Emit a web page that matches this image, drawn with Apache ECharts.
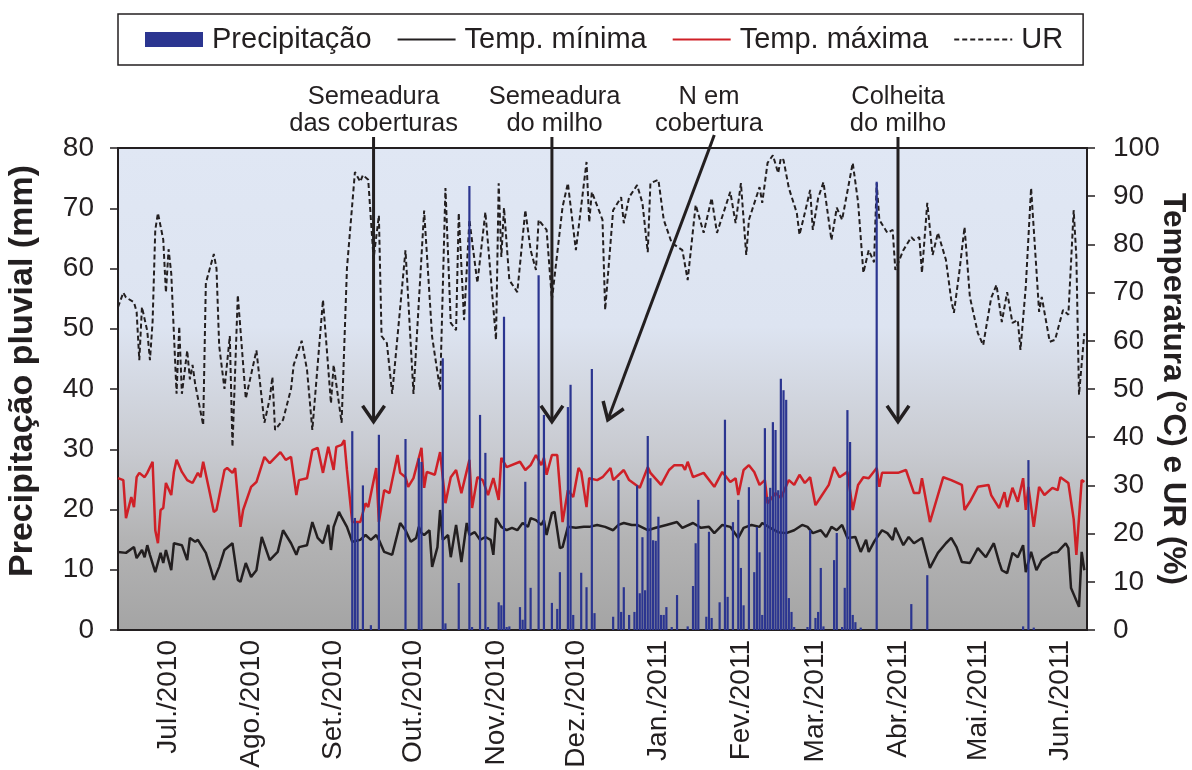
<!DOCTYPE html>
<html><head><meta charset="utf-8">
<script src="https://cdn.jsdelivr.net/npm/echarts@6/dist/echarts.min.js"></script>
<style>html,body{margin:0;padding:0;background:#fff}#c{width:1192px;height:770px}</style>
</head><body><div id="c"></div>
<script>
// ---------- DATA ----------
const startDate = Date.UTC(2010, 5, 12);   // first day on the axis (index 0)
const dayCount = 365;
const monthNames = ['Jan.','Fev.','Mar.','Abr.','Mai.','Jun.','Jul.','Ago.','Set.','Out.','Nov.','Dez.'];
const seriesNames = ['Precipitação','Temp. mínima','Temp. máxima','UR'];

// [day index, mm]
const precipitation = [[88,33],[89,18.6],[90,17.8],[92,24],[95,0.8],[98,32.4],[108,31.7],[113,28.5],[114,27.9],[122,45.1],[123,1.1],[128,7.8],[132,73.7],[133,0.5],[136,35.7],[138,29.4],[139,0.5],[143,4.6],[144,4.1],[145,52],[146,0.5],[147,0.6],[151,3.8],[152,1.7],[153,24.6],[155,7],[158,58.9],[160,35.7],[163,4.5],[165,3.5],[166,9.6],[169,37],[170,40.7],[171,2.5],[174,9.5],[176,7.1],[178,43.3],[179,2.8],[186,2.2],[188,24.9],[189,3],[190,7.1],[192,2.5],[194,3],[195,24],[196,6.1],[197,15.4],[198,6.6],[199,32.2],[200,25.2],[201,14.9],[202,14.8],[203,18.8],[204,2.5],[205,2.5],[206,3.8],[208,0.5],[210,5.8],[214,0.6],[216,7.3],[217,14.4],[218,21.6],[221,2.2],[222,16.3],[223,2],[226,4.6],[228,34.9],[229,5.5],[231,17.9],[233,21.6],[234,10.3],[235,4.1],[237,23.7],[239,9.6],[240,17.1],[241,12.9],[242,2.5],[243,33.5],[244,22.1],[245,23.6],[246,34.5],[247,33.2],[248,23.2],[249,41.7],[250,39.8],[251,38.2],[252,5.3],[253,3],[254,0.5],[259,0.5],[260,16.6],[262,2],[263,3],[264,10.3],[265,0.6],[269,11.6],[270,16.1],[272,0.5],[273,7],[274,36.5],[275,31.2],[276,2.5],[277,1.3],[279,0.4],[285,74.4],[298,4.3],[304,9.1],[340,0.6],[342,28.2],[344,0.4]];

// [day index, °C]
const tempMin = [[0,16.2],[3,16],[6,17.2],[7,14.9],[9,16.6],[10,15.1],[11,17.6],[12,15.6],[14,12],[16,16],[17,13.9],[18,16.6],[20,12.4],[21,18],[24,17.6],[26,14.5],[27,19.1],[29,18.3],[30,18.7],[33,16],[35,12.4],[36,10.4],[38,13.1],[40,16.6],[43,18],[45,10.4],[46,10],[48,13.9],[50,11],[52,12.4],[54,19.3],[57,14.5],[60,16.2],[62,20.7],[65,18],[67,15.6],[68,17.2],[71,17.6],[73,22.4],[75,19.1],[77,18],[79,21.8],[80,16.6],[81,21.4],[83,24.5],[84,23.4],[86,21.4],[88,18.3],[91,18.7],[93,19.7],[95,18.7],[97,19.7],[98,18.7],[100,16.2],[103,15.6],[106,22.2],[108,20.7],[110,18.3],[112,19.1],[113,21.4],[114,20.1],[115,19.7],[117,20.7],[118,13.1],[120,17.2],[121,24.9],[122,18.7],[124,19.7],[125,15.1],[127,21.8],[129,14.1],[131,22.2],[132,19.7],[134,20.3],[136,18.7],[138,19.3],[140,18.7],[141,15.6],[142,23.2],[144,21.4],[146,20.7],[148,21.2],[150,20.7],[152,22.2],[154,21.4],[155,23.2],[157,22.8],[159,21.8],[160,22.8],[161,19.7],[163,24.3],[164,24.5],[166,17],[167,17.2],[169,21.4],[172,21.2],[175,21.4],[177,21.4],[180,21.8],[183,21.4],[186,20.7],[188,21.8],[190,22.2],[193,21.8],[195,21.8],[199,20.7],[202,21.2],[206,21.8],[210,22.4],[212,21.2],[216,22.2],[219,21.2],[222,21.4],[224,20.1],[227,21.8],[230,21.4],[233,19.1],[235,21.2],[238,21.8],[241,21.4],[242,22.2],[245,21.2],[248,20.3],[251,20.1],[254,20.7],[257,21.8],[259,21.4],[261,20.1],[264,20.7],[266,19.3],[268,21.4],[270,20.7],[272,21.8],[274,19.1],[277,19.3],[279,16.2],[281,18.7],[282,16.2],[284,18.3],[287,20.7],[289,20.1],[291,18.7],[292,21.2],[295,17.6],[297,19.3],[299,18],[302,19.1],[305,12.9],[308,16],[311,18],[313,19.1],[315,17.2],[317,14.1],[320,13.9],[323,17],[326,15.1],[329,18],[331,14.1],[332,12.4],[334,11.8],[336,16],[338,15.1],[340,17.6],[341,12],[343,16.2],[345,12.4],[347,14.5],[351,16],[353,16.2],[356,18],[357,17],[358,8.7],[361,4.8],[362,16.2],[363,12.4]];

// [day index, °C]
const tempMax = [[0,31.5],[2,31.1],[3,23.2],[5,27.6],[6,25.5],[7,31.7],[8,32.6],[10,31.7],[11,32.6],[13,34.9],[14,20.7],[15,18],[16,24.9],[17,25.3],[18,30.5],[20,28],[21,32.8],[22,35.3],[24,32.8],[26,31.1],[28,30.5],[30,32.6],[31,31.7],[32,34.9],[34,29.7],[36,24.5],[37,24.9],[40,33.2],[41,33.6],[43,32.6],[44,33.6],[46,21.4],[47,24.9],[50,29.7],[52,30.7],[55,35.9],[57,34.6],[61,36.9],[63,35.3],[65,35.9],[67,28],[68,31.1],[71,31.5],[73,37.3],[75,37.8],[77,32.6],[79,38],[81,33.2],[82,38],[84,38.4],[85,39.4],[86,33.2],[88,22.4],[91,22.4],[93,26.3],[94,25.5],[97,33.6],[98,22.4],[100,29],[102,28.4],[105,36.3],[106,32.6],[108,31.7],[109,29.7],[111,31.5],[114,37.8],[115,29.5],[116,32.8],[119,32.2],[121,36.9],[123,26.3],[125,31.7],[127,33.2],[129,28.4],[132,35.3],[133,25.3],[135,31.7],[137,31.1],[139,28],[141,31.5],[143,27],[144,35.7],[146,33.8],[151,34.9],[153,33.2],[155,34.2],[157,36.3],[159,34.2],[160,35.7],[161,32.2],[163,36.3],[165,36.3],[167,22.4],[169,29],[171,27.6],[173,33.6],[174,32.8],[176,25.5],[177,31.5],[180,31.1],[182,31.7],[185,33.6],[186,31.1],[190,33.2],[192,31.1],[196,29.5],[199,33.8],[200,32.6],[204,30.1],[207,33.2],[209,34.2],[212,34.2],[213,33.2],[214,34.9],[216,31.7],[220,32.6],[224,29.7],[227,32.8],[230,30.7],[232,31.5],[233,28],[235,33.2],[237,34.2],[239,32.8],[241,30.1],[243,31.1],[244,26.3],[247,28.4],[249,27.4],[252,31.1],[254,30.1],[256,32.2],[258,30.5],[260,31.7],[262,25.9],[264,27.6],[267,30.1],[269,33.8],[271,31.7],[274,32.8],[276,24.9],[278,30.1],[280,31.7],[282,31.5],[285,33.6],[286,29.7],[287,32.6],[293,32.6],[296,33.2],[299,28.4],[301,28.4],[302,31.5],[305,22.4],[310,31.7],[313,31.1],[317,30.1],[318,24.9],[320,26.6],[323,29.7],[327,30.1],[328,28],[331,25.3],[333,28.6],[334,25.5],[336,29.5],[338,26.6],[340,31.5],[341,24.9],[342,29.7],[344,21.4],[346,29.7],[348,28],[351,29.5],[353,29],[354,31.7],[357,30.5],[359,23],[360,15.6],[362,31.1],[363,30.7]];

// [day index, %]
const relHumidity = [[0,67],[2,70],[3,69],[6,68],[7,66],[8,56],[9,67],[11,62],[12,56],[13,64],[14,83],[15,86.5],[17,81],[18,70],[19,79],[20,74],[22,49],[23,63],[24,49],[26,58],[27,52],[28,55],[29,51],[32,42.5],[33,72],[36,78],[37,75],[38,59],[40,50],[42,61],[43,38],[45,69.5],[48,48],[52,58],[55,43],[57,48],[58,52.5],[59,41.5],[62,43.6],[65,50],[66,55],[69,60],[71,54],[73,41.5],[77,68.5],[80,47],[81,55],[84,43],[86,75],[89,95],[91,93],[92,94.4],[94,93.4],[96,77],[98,86],[99,61],[101,59.5],[103,49],[108,78.8],[111,49],[115,87],[118,60.8],[121,49.8],[123,91.7],[125,63.7],[127,62.2],[128,86.5],[130,64.3],[132,85.1],[135,72],[138,86.7],[142,60.2],[143,92.7],[144,77.4],[145,87.6],[147,72.6],[150,70.1],[153,87.1],[155,78.8],[157,74.7],[158,85.1],[161,83],[163,68.5],[167,87.8],[169,92.7],[172,78.8],[176,97.1],[177,84.6],[178,90.9],[182,85.1],[183,66.4],[186,87.1],[189,89.8],[190,84.4],[192,89.8],[195,92.3],[197,88.6],[199,78.4],[200,92.7],[203,93.4],[205,85.1],[208,80.3],[212,78.8],[214,72.6],[217,88.2],[220,82.4],[223,89.6],[225,82.4],[230,90.9],[232,84.4],[234,92.7],[236,77.8],[237,85.1],[241,91.9],[242,88.6],[244,96.9],[246,98.5],[248,94.8],[249,97.9],[250,97.5],[252,91.7],[255,86.5],[256,82],[258,86.5],[260,91.3],[261,83],[263,89.6],[265,92.9],[268,80.9],[270,87.6],[272,85.1],[276,96.9],[278,88.8],[280,74.1],[282,78.8],[284,76.3],[285,92.7],[286,85.1],[289,82.4],[291,83],[292,74.7],[295,78.8],[298,81.5],[299,80.9],[301,81.5],[302,74.1],[304,88.6],[306,77.8],[308,82.4],[311,76.8],[313,68.5],[314,65.8],[316,74.1],[318,83.6],[320,69.1],[323,61.6],[325,59.1],[328,68.9],[330,71.6],[332,63.9],[334,70.1],[336,63.7],[338,64.3],[339,58.1],[341,71.2],[343,91.7],[345,74.7],[346,66],[347,69.1],[350,59.8],[352,60.2],[355,66.4],[357,65.4],[359,87.1],[360,77.4],[361,48.8],[363,61.6]];

// annotations: text anchor and arrow (day index, right-axis value)
const annotations = [
  {text:'Semeadura\ndas coberturas', textAt:[96,107.8], from:[96,102.3], to:[96,43.2]},
  {text:'Semeadura\ndo milho',       textAt:[163.5,107.8], from:[163,102.3], to:[163,43.2]},
  {text:'N em\ncobertura',           textAt:[221.6,107.8], from:[224,102.7], to:[183.5,43.6]},
  {text:'Colheita\ndo milho',        textAt:[293,107.8], from:[293,102.3], to:[293,43.2]}
];

// ---------- CHART ----------
const days = [];
for (let i = 0; i < dayCount; i++) {
  const d = new Date(startDate + i * 86400000);
  days.push(d.getUTCFullYear() + '-' + String(d.getUTCMonth()+1).padStart(2,'0') + '-' + String(d.getUTCDate()).padStart(2,'0'));
}
const FONT = '"Liberation Sans", Arial, Helvetica, sans-serif';
const INK = '#231f20';
const chart = echarts.init(document.getElementById('c'), null, {renderer:'canvas'});
const hiddenSymbol = {opacity: 0, color: 'rgba(0,0,0,0)', borderWidth: 0};

const option = {
  animation: false,
  textStyle: {fontFamily: FONT, color: INK},
  legend: {
    left: 118, top: 14,
    padding: [11, 20, 11, 27],
    borderColor: INK, borderWidth: 1.5,
    itemGap: 25, itemWidth: 58, itemHeight: 15,
    textStyle: {fontSize: 29, color: INK, fontFamily: FONT, padding: [0, 0, 0, 4]},
    data: [
      {name: seriesNames[0], icon: 'rect'},
      {name: seriesNames[1], itemStyle: hiddenSymbol},
      {name: seriesNames[2], itemStyle: hiddenSymbol},
      {name: seriesNames[3], itemStyle: hiddenSymbol}
    ]
  },
  grid: {
    left: 118, right: 105, top: 148, bottom: 140,
    show: true, borderColor: INK, borderWidth: 2,
    outerBoundsMode: 'none',
    backgroundColor: {type:'linear', x:0, y:0, x2:0, y2:1, colorStops:[
      {offset:0, color:'#e0e7f4'}, {offset:0.37, color:'#dde4f1'},
      {offset:0.63, color:'#c8cad0'}, {offset:0.81, color:'#b3b3b4'}, {offset:1, color:'#a4a4a4'}]}
  },
  xAxis: {
    type: 'category', data: days, boundaryGap: false,
    axisLine: {show: true, lineStyle: {color: INK, width: 2}},
    axisTick: {show: false},
    splitLine: {show: false},
    axisLabel: {
      rotate: 90, margin: 10, fontSize: 28, color: INK, fontFamily: FONT,
      interval: (idx, val) => val.slice(8) === '01',
      formatter: val => monthNames[parseInt(val.slice(5,7),10)-1] + '/' + val.slice(0,4)
    }
  },
  yAxis: [
    {
      type: 'value', min: 0, max: 80, interval: 10, position: 'left',
      name: 'Precipitação pluvial (mm)', nameLocation: 'middle', nameRotate: 90, nameGap: 78,
      nameMoveOverlap: false,
      nameTextStyle: {fontSize: 34, fontWeight: 'bold', color: INK, fontFamily: FONT, padding: [0, 0, 0, 36]},
      axisLine: {show: true, lineStyle: {color: INK, width: 2}},
      axisTick: {show: true, inside: false, length: 8, lineStyle: {color: INK, width: 1.5}},
      axisLabel: {fontSize: 28, color: INK, margin: 24, fontFamily: FONT},
      splitLine: {show: false}
    },
    {
      type: 'value', min: 0, max: 100, interval: 10, position: 'right',
      name: 'Temperatura (°C) e UR (%)', nameLocation: 'middle', nameRotate: -90, nameGap: 70,
      nameMoveOverlap: false,
      nameTextStyle: {fontSize: 31.5, fontWeight: 'bold', color: INK, fontFamily: FONT},
      axisLine: {show: true, lineStyle: {color: INK, width: 2}},
      axisTick: {show: true, inside: false, length: 8, lineStyle: {color: INK, width: 1.5}},
      axisLabel: {fontSize: 28, color: INK, margin: 26, fontFamily: FONT},
      splitLine: {show: false}
    }
  ],
  series: [
    {name: seriesNames[0], type: 'bar', yAxisIndex: 0, data: precipitation, barWidth: 2.2,
     itemStyle: {color: '#2b3590'}, z: 5},
    {name: seriesNames[1], type: 'line', yAxisIndex: 1, data: tempMin, symbol: 'none',
     lineStyle: {color: INK, width: 2.5}, itemStyle: {color: INK}, z: 3},
    {name: seriesNames[2], type: 'line', yAxisIndex: 1, data: tempMax, symbol: 'none',
     lineStyle: {color: '#cf2027', width: 2.5}, itemStyle: {color: '#cf2027'}, z: 3},
    {name: seriesNames[3], type: 'line', yAxisIndex: 1, data: relHumidity, symbol: 'none',
     lineStyle: {color: INK, width: 2, type: [5, 3]}, itemStyle: {color: INK}, z: 3}
  ]
};
chart.setOption(option);

// annotations positioned through the chart's own scales
const g = [];
annotations.forEach(a => {
  const tp = chart.convertToPixel({seriesIndex: 3}, a.textAt);
  g.push({type: 'text', x: tp[0], y: tp[1], z: 100,
    style: {text: a.text, fontSize: 25.5, fontFamily: FONT, fill: INK, align: 'center', verticalAlign: 'middle', lineHeight: 27}});
  const p0 = chart.convertToPixel({seriesIndex: 3}, a.from);
  const p1 = chart.convertToPixel({seriesIndex: 3}, a.to);
  g.push({type: 'line', z: 100, shape: {x1: p0[0], y1: p0[1], x2: p1[0], y2: p1[1]},
    style: {stroke: INK, lineWidth: 3}});
  const dx = p1[0]-p0[0], dy = p1[1]-p0[1], L = Math.hypot(dx, dy), ux = dx/L, uy = dy/L;
  const hl = 16, hw = 11, bx = p1[0]-ux*hl, by = p1[1]-uy*hl;
  g.push({type: 'polyline', z: 100,
    shape: {points: [[bx - uy*hw, by + ux*hw], [p1[0], p1[1]], [bx + uy*hw, by - ux*hw]]},
    style: {stroke: INK, lineWidth: 3.5, fill: null}});
});
chart.setOption({graphic: g});
</script>
</body></html>
